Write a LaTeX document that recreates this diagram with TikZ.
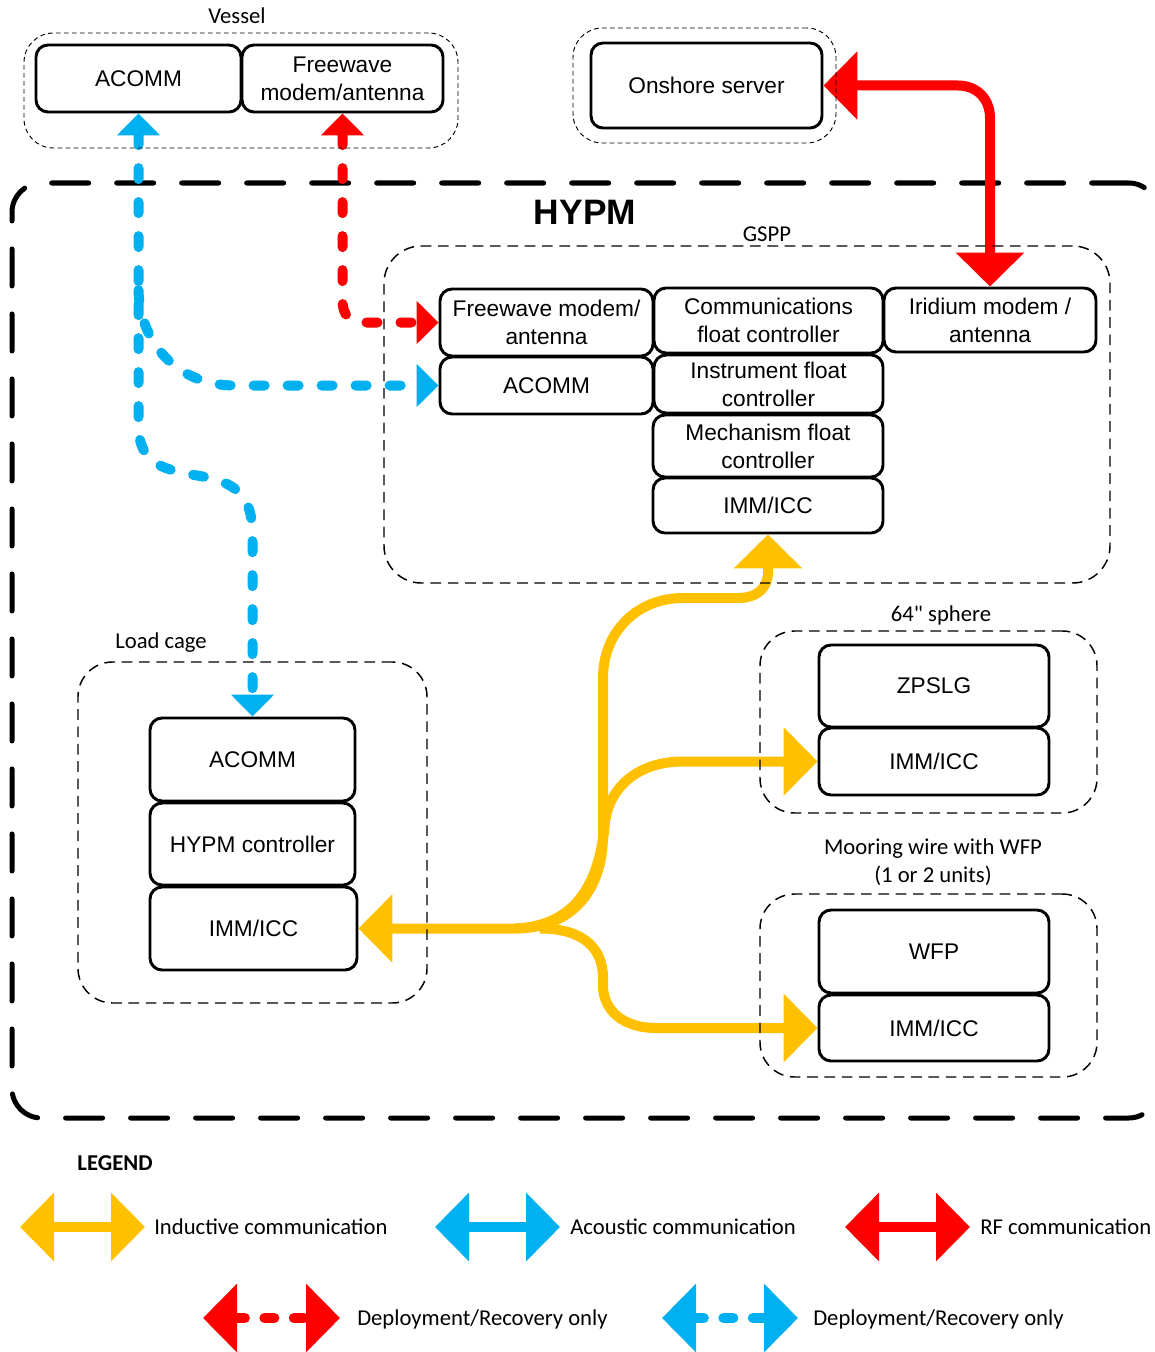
\documentclass[tikz,border=0pt]{standalone}
\usepackage{fontspec}
\setmainfont{Liberation Sans}
\newfontfamily\calfont{Carlito}
\usetikzlibrary{arrows.meta,fit}

\definecolor{indY}{HTML}{FFC000}
\definecolor{acuB}{HTML}{00B0F0}
\definecolor{rfR}{HTML}{FF0000}

\pgfdeclarelayer{back}
\pgfdeclarelayer{wires}
\pgfsetlayers{back,wires,main}

\tikzset{
  % span=x1/y1/x2/y2 places a box by its corners (1 unit = 0.75pt)
  span/.style args={#1/#2/#3/#4}{minimum width={(#3-#1)*0.75pt}, minimum height={(#4-#2)*0.75pt},
    at={({(#1+#3)/2},{(#2+#4)/2})}},
  unit/.style={draw, line width=2.2pt, rounded corners=9pt, fill=white, inner sep=0pt,
    align=center, font=\fontsize{17}{21}\selectfont},
  grp/.style={draw, line width=1.1pt, dash pattern=on 8pt off 5pt, rounded corners=26pt, inner sep=0pt},
  grpthin/.style={draw, line width=0.7pt, dash pattern=on 3.5pt off 2.5pt, rounded corners=22pt, inner sep=0pt},
  lbl/.style={font=\calfont\fontsize{17}{21}\selectfont, align=center},
  legtext/.style={font=\calfont\fontsize{17}{21}\selectfont, anchor=base west, inner sep=0pt},
  hyp/.style={draw, line width=3.75pt, line cap=round, dash pattern=on 27.75pt off 21pt,
    rounded corners=22pt, inner sep=0pt},
  ind/.style={indY, line width=7.5pt},
  rf/.style={rfR, line width=7.5pt},
  acu/.style={acuB, line width=7.5pt, line cap=round, dash pattern=on 8.25pt off 17.25pt},
  rfd/.style={rfR, line width=7.5pt, line cap=round, dash pattern=on 8.25pt off 17.25pt},
  legdash/.style={line width=7.5pt, line cap=round, dash pattern=on 7.5pt off 14.6pt},
  bigtip/.tip={Triangle[length=25.5pt,width=50pt]},
  smalltip/.tip={Triangle[length=16.5pt,width=31.5pt]},
}

\begin{document}
\begin{tikzpicture}[x=0.75pt,y=-0.75pt]
\useasboundingbox (0,0) rectangle (1154,1352);

% ---- outer HYPM enclosure
\begin{pgfonlayer}{back}
\node[hyp, fit={(12,183)(1158,1118)}] (hypm) {};
\end{pgfonlayer}
\node[font=\bfseries\fontsize{26.5}{30}\selectfont] (lhypm) at (585,212) {HYPM};

% ---- vessel
\node[grpthin, fit={(24,33)(458,148)}] (vessel) {};
\node[lbl] (lvessel) at (237,16) {Vessel};
\node[unit, span=36/45/241/112] (vacomm) {ACOMM};
\node[unit, span=242/45/443/112] (vfree) {Freewave\\modem/antenna};

% ---- onshore
\node[grpthin, fit={(573,28)(836,143)}] (shore) {};
\node[unit, span=591/43/822/128] (onshore) {Onshore server};

% ---- GSPP
\node[grp, rounded corners=28pt, fit={(384,246)(1110,583)}] (gspp) {};
\node[lbl] (lgspp) at (767,234) {GSPP};
\node[unit, span=440/289/653/356] (gfree) {Freewave modem/\\antenna};
\node[unit, span=440/357/653/414] (gacomm) {ACOMM};
\node[unit, span=654/288/883/353] (gcomm) {Communications\\float controller};
\node[unit, span=654/355/883/413] (ginst) {Instrument float\\controller};
\node[unit, span=653/415/883/477] (gmech) {Mechanism float\\controller};
\node[unit, span=653/478/883/533] (gimm) {IMM/ICC};
\node[unit, span=884/288/1096/352] (girid) {Iridium modem /\\antenna};

% ---- load cage
\node[grp, fit={(78,662)(427,1003)}] (cage) {};
\node[lbl] (lcage) at (161,643) {Load cage};
\node[unit, span=150/718/355/801] (lacomm) {ACOMM};
\node[unit, span=150/803/355/885] (lctrl) {HYPM controller};
\node[unit, span=150/887/357/970] (limm) {IMM/ICC};

% ---- 64" sphere
\node[grp, fit={(760,631)(1097,813)}] (sphere) {};
\node[lbl] (lsphere) at (941,615) {64" sphere};
\node[unit, span=819/645/1049/727] (szpslg) {ZPSLG};
\node[unit, span=819/728/1049/795] (simm) {IMM/ICC};

% ---- mooring wire
\node[grp, fit={(760,894)(1097,1077)}] (moor) {};
\node[lbl] (lmoor) at (933,862) {Mooring wire with WFP\\(1 or 2 units)};
\node[unit, span=819/910/1049/993] (mwfp) {WFP};
\node[unit, span=819/995/1049/1061] (mimm) {IMM/ICC};

% ---- connectors
\begin{pgfonlayer}{wires}
% RF link
\draw[rf, {bigtip}-{bigtip}] (onshore.east) -- (958,85.5)
  .. controls (977,85.5) and (990,99) .. (990,118) -- (girid.north);
% acoustic, deployment/recovery
\draw[acu, {smalltip}-{smalltip}] (vacomm.south) -- (138.5,425)
  .. controls (138.5,465) and (165,470) .. (200,476)
  .. controls (235,482) and (252.5,495) .. (252.5,535) -- (lacomm.north);
\draw[acu, -{smalltip}] (138.5,290)
  .. controls (139.5,340) and (175,385.5) .. (235,385.5) -- (gacomm.west);
% RF, deployment/recovery
\draw[rfd, {smalltip}-{smalltip}] (vfree.south) -- (342.5,300)
  .. controls (342.5,316) and (350,322.5) .. (366,322.5) -- (gfree.west);
% inductive links
\draw[ind, {bigtip}-{bigtip}] (limm.east) -- (515,928.5)
  .. controls (572,928.5) and (603,890) .. (603,835) -- (603,678)
  .. controls (603,632) and (637,598) .. (683,598) -- (738,598)
  .. controls (757,598) and (768,588) .. (768,572) -- (gimm.south);
\draw[ind, -{bigtip}] (515,928.5)
  .. controls (578,926) and (600,880) .. (605,822)
  .. controls (610,785) and (640,761.5) .. (683,761.5) -- (simm.west);
\draw[ind, -{bigtip}] (540,928.5)
  .. controls (583,928.5) and (603,948) .. (603,978) -- (603,985)
  .. controls (603,1012) and (625,1028) .. (656,1028) -- (mimm.west);
\end{pgfonlayer}

% ---- legend
\node[font=\calfont\bfseries\fontsize{17}{21}\selectfont] (legend) at (115,1163) {LEGEND};

\coordinate (ya) at (20,1227);  \coordinate (yb) at (145,1227);
\coordinate (ba) at (435,1227); \coordinate (bb) at (560,1227);
\coordinate (ra) at (845,1227); \coordinate (rb) at (970,1227);
\coordinate (rda) at (203,1318); \coordinate (rdb) at (340,1318);
\coordinate (bda) at (662,1318); \coordinate (bdb) at (798,1318);

\draw[ind, {bigtip}-{bigtip}] (ya) -- (yb);
\draw[acuB, line width=7.5pt, {bigtip}-{bigtip}] (ba) -- (bb);
\draw[rf, {bigtip}-{bigtip}] (ra) -- (rb);
\draw[rfR, legdash, {bigtip}-{bigtip}] (rda) -- (rdb);
\draw[acuB, legdash, {bigtip}-{bigtip}] (bda) -- (bdb);

\node[legtext] (tind) at (154,1234) {Inductive communication};
\node[legtext] (tacu) at (570,1234) {Acoustic communication};
\node[legtext] (trf) at (980,1234) {RF communication};
\node[legtext] (trfd) at (357,1325) {Deployment/Recovery only};
\node[legtext] (tacd) at (813,1325) {Deployment/Recovery only};
\end{tikzpicture}
\end{document}
